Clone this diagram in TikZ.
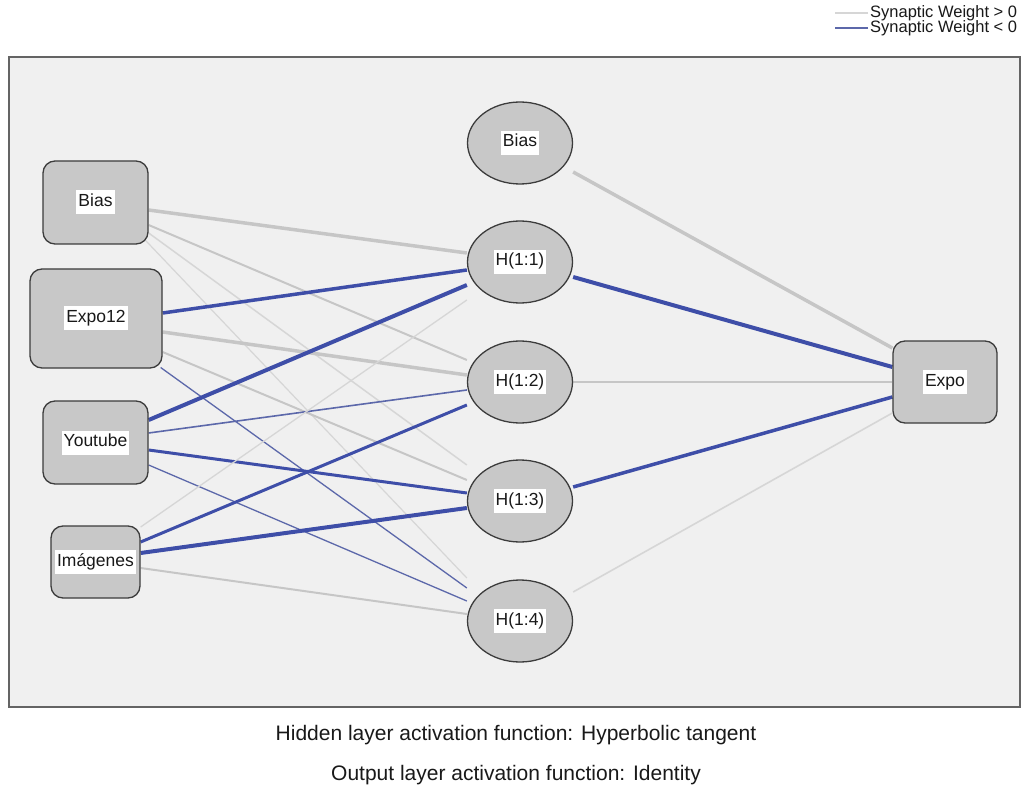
\documentclass[tikz,border=0pt]{standalone}
\usepackage{fontspec}
\setmainfont{Liberation Sans}
\usetikzlibrary{shapes.geometric,backgrounds}
\definecolor{bgc}{RGB}{240,240,240}
\definecolor{nodefill}{RGB}{200,200,200}
\definecolor{nodeline}{RGB}{60,60,60}
\definecolor{posc}{RGB}{198,198,198}
\definecolor{poslight}{RGB}{214,214,214}
\definecolor{negc}{RGB}{62,78,168}
\definecolor{negthin}{RGB}{92,104,170}
\definecolor{framecol}{RGB}{100,100,100}
\definecolor{txt}{RGB}{25,25,25}
\newcommand{\lbl}[1]{{\setlength{\fboxsep}{2pt}\colorbox{white}{\strut #1}}}
\newcommand{\lblfont}{\fontsize{17.5}{20}\selectfont}
\newcommand{\legfont}{\fontsize{16.5}{19}\selectfont}
\newcommand{\capfont}{\fontsize{21}{24}\selectfont}
\tikzset{
  inbox/.style={draw=nodeline, fill=nodefill, line width=1.3pt, rounded corners=12pt, inner sep=0pt, font=\lblfont, text=txt},
  hid/.style={ellipse, draw=nodeline, fill=nodefill, line width=1.3pt, minimum width=105pt, minimum height=82pt, inner sep=0pt, font=\lblfont, text=txt},
  wpos/.style={draw=posc},
  wposl/.style={draw=poslight},
  wneg/.style={draw=negc},
  wnegt/.style={draw=negthin},
  captext/.style={font=\capfont, text=txt, inner sep=0pt},
  legtext/.style={font=\legfont, text=txt, inner sep=0pt, anchor=west}
}
\begin{document}
\begin{tikzpicture}[x=1pt, y=-1pt]
\useasboundingbox (0,0) rectangle (1030,791);

% input layer
\node[inbox, minimum width=105pt, minimum height=83pt] (ib) at (95.5,202.5) {\lbl{Bias}};
\node[inbox, minimum width=132pt, minimum height=99pt] (ie) at (96,318.5) {\lbl{Expo12}};
\node[inbox, minimum width=105pt, minimum height=83pt] (iy) at (95.5,442.5) {\lbl{Youtube}};
\node[inbox, minimum width=89pt, minimum height=72pt] (ii) at (95.5,562) {\lbl{Imágenes}};

% hidden layer
\node[hid] (hb) at (520,143) {\lbl{Bias}};
\node[hid] (h1) at (520,262) {\lbl{H(1:1)}};
\node[hid] (h2) at (520,382) {\lbl{H(1:2)}};
\node[hid] (h3) at (520,501) {\lbl{H(1:3)}};
\node[hid] (h4) at (520,621) {\lbl{H(1:4)}};

% output
\node[inbox, minimum width=104pt, minimum height=82pt] (out) at (945,382) {\lbl{Expo}};

\begin{scope}[on background layer]
  \fill[white] (0,0) rectangle (1030,791);
  \fill[bgc] (9,57) rectangle (1020,707);
  \draw[framecol, line width=1.3pt] (9,57) rectangle (1020,707);
  % input Bias
  \draw[wpos, line width=3.5pt] ([shift={(0,7.5)}]ib.east) -- ([shift={(0,-9)}]h1.west);
  \draw[wpos, line width=2pt] ([shift={(0,22.5)}]ib.east) -- ([shift={(0,-22)}]h2.west);
  \draw[wposl, line width=1.5pt] ([shift={(0,30.5)}]ib.east) -- ([shift={(0,-36)}]h3.west);
  \draw[wposl, line width=1.2pt] ([shift={(-3,38)}]ib.east) -- ([shift={(0,-43)}]h4.west);
  % Expo12
  \draw[wneg, line width=3.5pt] ([shift={(0,-5.5)}]ie.east) -- ([shift={(0,8)}]h1.west);
  \draw[wpos, line width=3.5pt] ([shift={(0,13.5)}]ie.east) -- ([shift={(0,-7)}]h2.west);
  \draw[wpos, line width=2pt] ([shift={(0,33.5)}]ie.east) -- ([shift={(0,-21)}]h3.west);
  \draw[wnegt, line width=1.3pt] ([shift={(-2,49)}]ie.east) -- ([shift={(0,-33)}]h4.west);
  % Youtube
  \draw[wneg, line width=4pt] ([shift={(0,-22.5)}]iy.east) -- ([shift={(0,23)}]h1.west);
  \draw[wnegt, line width=1.6pt] ([shift={(0,-9.5)}]iy.east) -- ([shift={(0,8)}]h2.west);
  \draw[wneg, line width=3pt] ([shift={(0,7.5)}]iy.east) -- ([shift={(0,-8)}]h3.west);
  \draw[wnegt, line width=1.3pt] ([shift={(0,22.5)}]iy.east) -- ([shift={(0,-20)}]h4.west);
  % Imagenes
  \draw[wposl, line width=1.3pt] ([shift={(0,-35)}]ii.east) -- ([shift={(0,38)}]h1.west);
  \draw[wneg, line width=3pt] ([shift={(0,-20)}]ii.east) -- ([shift={(0,23)}]h2.west);
  \draw[wneg, line width=4pt] ([shift={(0,-9)}]ii.east) -- ([shift={(0,7)}]h3.west);
  \draw[wpos, line width=2pt] ([shift={(0,6)}]ii.east) -- ([shift={(0,-7)}]h4.west);
  % hidden to output
  \draw[wpos, line width=3.5pt] ([shift={(0,29)}]hb.east) -- ([shift={(0,-34)}]out.west);
  \draw[wneg, line width=4pt] ([shift={(0,15)}]h1.east) -- ([shift={(0,-15)}]out.west);
  \draw[wpos, line width=2.5pt] (h2.east) -- (out.west);
  \draw[wneg, line width=3.5pt] ([shift={(0,-14)}]h3.east) -- ([shift={(0,15)}]out.west);
  \draw[wposl, line width=1.6pt] ([shift={(0,-29)}]h4.east) -- ([shift={(0,31)}]out.west);
\end{scope}

% legend
\node[legtext] (lg1) at (870,13) {Synaptic Weight > 0};
\node[legtext] (lg2) at (870,28) {Synaptic Weight < 0};
\draw[poslight, line width=1.3pt] ([xshift=-2pt]lg1.west) -- ++(-33,0);
\draw[negthin, line width=1.6pt] ([xshift=-2pt]lg2.west) -- ++(-33,0);

% captions
\node[captext] (cap1) at (516,735) {Hidden layer activation function: Hyperbolic tangent};
\node[captext] (cap2) at (516,775) {Output layer activation function: Identity};
\end{tikzpicture}
\end{document}
